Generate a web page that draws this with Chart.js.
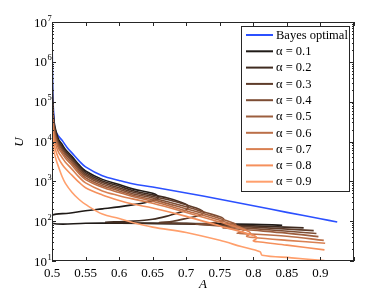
<!DOCTYPE html>
<html>
<head>
<meta charset="utf-8">
<script src="https://cdn.jsdelivr.net/npm/chart.js@4.4.0/dist/chart.umd.min.js"></script>
<style>
  html, body { margin: 0; padding: 0; background: #fff; }
  #wrap { width: 390px; height: 294px; }
</style>
</head>
<body>
<div id="wrap"><canvas id="chart" width="390" height="294"></canvas></div>
<script>
// series: [A, U]
const seriesLabels = ['Bayes optimal', 'α = 0.1', 'α = 0.2', 'α = 0.3', 'α = 0.4', 'α = 0.5', 'α = 0.6', 'α = 0.7', 'α = 0.8', 'α = 0.9'];
const seriesColors = ['#2b50ff', '#1f1a17', '#3f2b20', '#5e3c2a', '#7d4d34', '#9c5e3e', '#bb6f48', '#d98052', '#f5905c', '#ff9f6c'];

const bayesOptimal = [[0.5, 1e7], [0.5005, 1e6], [0.5015, 1e5], [0.503, 40000], [0.5045, 20000], [0.51, 13500], [0.515, 10700], [0.5225, 7100], [0.53, 5100], [0.54, 3300], [0.55, 2300], [0.575, 1380], [0.6, 1050], [0.62, 870], [0.65, 720], [0.7, 510], [0.75, 355], [0.8, 245], [0.85, 166], [0.9, 115], [0.925, 95]];

const alpha01 = [[0.5, 1e7], [0.5004, 398000], [0.501, 100000], [0.503, 31600], [0.506, 17800], [0.51, 11200], [0.515, 8510], [0.52, 6310], [0.53, 4170], [0.54, 2630], [0.55, 1820], [0.575, 1120], [0.6, 832], [0.62, 646], [0.65, 501], [0.657, 437], [0.658, 380], [0.654, 339], [0.64, 295], [0.62, 257], [0.6, 229], [0.575, 204], [0.55, 182], [0.525, 158], [0.5, 141], [0.5, 89], [0.55, 89], [0.6, 89], [0.7, 87], [0.8, 83], [0.843, 79]];

const alpha02 = [[0.5, 1e7], [0.5004, 251000], [0.501, 79400], [0.503, 28200], [0.506, 15800], [0.51, 10000], [0.515, 7590], [0.52, 5750], [0.53, 3800], [0.54, 2400], [0.55, 1660], [0.575, 1020], [0.6, 759], [0.62, 589], [0.65, 457], [0.675, 372], [0.69, 309], [0.7, 263], [0.703, 224], [0.7, 191], [0.69, 166], [0.67, 132], [0.65, 112], [0.62, 100], [0.6, 97], [0.58, 94], [0.585, 92], [0.6, 91], [0.7, 85], [0.8, 76], [0.875, 68]];

const alpha03 = [[0.5, 1e7], [0.5004, 158000], [0.501, 63100], [0.503, 25100], [0.506, 14100], [0.51, 9120], [0.515, 6920], [0.52, 5250], [0.53, 3470], [0.54, 2190], [0.55, 1510], [0.575, 933], [0.6, 692], [0.62, 537], [0.65, 417], [0.675, 339], [0.7, 257], [0.715, 214], [0.724, 182], [0.726, 162], [0.72, 141], [0.7, 117], [0.68, 100], [0.66, 92], [0.665, 90], [0.7, 88], [0.75, 79], [0.8, 71], [0.89, 58]];

const alpha04 = [[0.5, 1e7], [0.5004, 100000], [0.501, 50100], [0.503, 22400], [0.506, 12600], [0.51, 8320], [0.515, 6310], [0.52, 4790], [0.53, 3160], [0.54, 2000], [0.55, 1380], [0.575, 851], [0.6, 631], [0.62, 490], [0.65, 380], [0.7, 229], [0.73, 162], [0.75, 129], [0.756, 112], [0.75, 98], [0.735, 89], [0.715, 84], [0.72, 83], [0.8, 65], [0.894, 49]];

const alpha05 = [[0.5, 1e7], [0.5004, 79400], [0.501, 39800], [0.503, 20000], [0.506, 11200], [0.51, 7410], [0.515, 5620], [0.52, 4270], [0.53, 2820], [0.54, 1780], [0.55, 1230], [0.575, 776], [0.6, 575], [0.62, 447], [0.65, 347], [0.7, 204], [0.75, 117], [0.768, 93], [0.774, 83], [0.768, 72], [0.755, 68], [0.76, 67], [0.8, 59], [0.85, 50], [0.897, 41]];

const alpha06 = [[0.5, 1e7], [0.5004, 63100], [0.501, 31600], [0.503, 15800], [0.506, 10000], [0.51, 6610], [0.515, 5010], [0.52, 3800], [0.53, 2510], [0.54, 1580], [0.55, 1100], [0.575, 708], [0.6, 525], [0.62, 417], [0.65, 316], [0.7, 182], [0.75, 105], [0.78, 71], [0.787, 62], [0.782, 54], [0.776, 50], [0.78, 49.5], [0.85, 42], [0.905, 33]];

const alpha07 = [[0.5, 1e7], [0.5004, 39800], [0.501, 25100], [0.503, 12600], [0.506, 7940], [0.51, 5250], [0.515, 3980], [0.52, 3020], [0.53, 2000], [0.54, 1290], [0.55, 912], [0.575, 575], [0.6, 437], [0.62, 363], [0.65, 282], [0.7, 166], [0.75, 95], [0.79, 58], [0.796, 48], [0.79, 42], [0.8, 39], [0.85, 33], [0.907, 28]];

const alpha08 = [[0.5, 1e7], [0.5004, 25100], [0.501, 15800], [0.503, 8910], [0.506, 5620], [0.51, 3720], [0.515, 2690], [0.52, 2090], [0.53, 1410], [0.54, 955], [0.55, 692], [0.575, 457], [0.6, 331], [0.62, 269], [0.65, 214], [0.7, 132], [0.75, 76], [0.8, 44], [0.805, 37], [0.8, 32], [0.81, 30], [0.85, 25], [0.906, 19]];

const alpha09 = [[0.5, 1e7], [0.5004, 15800], [0.501, 10000], [0.503, 5620], [0.506, 3550], [0.51, 2240], [0.515, 1320], [0.52, 891], [0.53, 525], [0.54, 355], [0.55, 263], [0.575, 151], [0.6, 117], [0.62, 93], [0.65, 71], [0.7, 52], [0.75, 33], [0.782, 23], [0.81, 17], [0.813, 14], [0.857, 12], [0.906, 10.2]];

const allSeries = [bayesOptimal, alpha01, alpha02, alpha03, alpha04, alpha05, alpha06, alpha07, alpha08, alpha09];

const yDecades = [1, 2, 3, 4, 5, 6, 7];
const xTickValues = [0.5, 0.55, 0.6, 0.65, 0.7, 0.75, 0.8, 0.85, 0.9, 0.95];

const SERIF = '"Liberation Serif", "Times New Roman", serif';

// MATLAB style box, inward ticks, superscript y labels, axis titles and boxed legend
const matlabFrame = {
  id: 'matlabFrame',
  afterDatasetsDraw(chart) {
    const { ctx, chartArea: a, scales: { x, y } } = chart;
    ctx.save();
    ctx.strokeStyle = '#262626';
    ctx.lineWidth = 1;
    ctx.strokeRect(a.left + 0.5, a.top + 0.5, a.right - a.left - 1, a.bottom - a.top - 1);

    ctx.beginPath();
    xTickValues.forEach(v => {
      const px = Math.round(x.getPixelForValue(v)) + 0.5;
      ctx.moveTo(px, a.bottom); ctx.lineTo(px, a.bottom - 4);
      ctx.moveTo(px, a.top); ctx.lineTo(px, a.top + 4);
    });
    yDecades.forEach(e => {
      for (let m = 1; m <= 9; m++) {
        if (e === 7 && m > 1) break;
        const py = Math.round(y.getPixelForValue(m * Math.pow(10, e))) + 0.5;
        const len = m === 1 ? 4 : 2;
        ctx.moveTo(a.left, py); ctx.lineTo(a.left + len, py);
        ctx.moveTo(a.right, py); ctx.lineTo(a.right - len, py);
      }
    });
    ctx.stroke();

    // y tick labels 10^e
    ctx.fillStyle = '#000';
    yDecades.forEach(e => {
      const py = y.getPixelForValue(Math.pow(10, e));
      ctx.font = '13px ' + SERIF;
      ctx.textAlign = 'right';
      ctx.textBaseline = 'alphabetic';
      ctx.fillText('10', 47, py + 4.5);
      ctx.font = '8.5px ' + SERIF;
      ctx.textAlign = 'left';
      ctx.fillText(String(e), 47.5, py - 1.5);
    });

    // axis titles
    ctx.font = 'italic 13px ' + SERIF;
    ctx.textAlign = 'center';
    ctx.textBaseline = 'middle';
    ctx.fillText('A', (a.left + a.right) / 2, 285);
    ctx.save();
    ctx.translate(20, 142);
    ctx.rotate(-Math.PI / 2);
    ctx.fillText('U', 0, 0);
    ctx.restore();

    // legend
    const box = { left: 241, top: 26, right: 349, bottom: 191 };
    ctx.fillStyle = '#fff';
    ctx.fillRect(box.left, box.top, box.right - box.left, box.bottom - box.top);
    ctx.strokeStyle = '#262626';
    ctx.strokeRect(box.left + 0.5, box.top + 0.5, box.right - box.left, box.bottom - box.top);
    ctx.font = '12.5px ' + SERIF;
    ctx.textAlign = 'left';
    ctx.textBaseline = 'middle';
    chart.data.datasets.forEach((ds, i) => {
      const ly = 35 + i * 16.3;
      ctx.strokeStyle = ds.borderColor;
      ctx.lineWidth = 2;
      ctx.beginPath();
      ctx.moveTo(246, ly); ctx.lineTo(273, ly);
      ctx.stroke();
      ctx.fillStyle = '#000';
      ctx.fillText(ds.label, 276, ly + 0.5);
    });
    ctx.restore();
  }
};

new Chart(document.getElementById('chart'), {
  type: 'scatter',
  data: {
    datasets: allSeries.map((pts, i) => ({
      label: seriesLabels[i],
      data: pts.map(([A, U]) => ({ x: A, y: U })),
      showLine: true,
      borderColor: seriesColors[i],
      backgroundColor: seriesColors[i],
      borderWidth: 1.6,
      pointRadius: 0,
      tension: 0.35,
      order: i === 0 ? 10 : 10 - i
    }))
  },
  options: {
    responsive: false,
    animation: false,
    devicePixelRatio: 1,
    layout: { padding: { left: 0, top: 22, right: 36, bottom: 0 } },
    plugins: { legend: { display: false }, tooltip: { enabled: false } },
    scales: {
      x: {
        type: 'linear',
        min: 0.5,
        max: 0.95,
        grid: { display: false, drawTicks: false },
        border: { display: false },
        afterBuildTicks: s => { s.ticks = xTickValues.map(v => ({ value: v })); },
        afterFit: s => { s.height = 33; },
        ticks: {
          padding: 5,
          maxRotation: 0,
          autoSkip: false,
          color: '#000',
          font: { family: SERIF, size: 13 },
          callback: v => (v > 0.94 ? '' : String(+v.toFixed(2)))
        }
      },
      y: {
        type: 'logarithmic',
        min: 10,
        max: 1e7,
        grid: { display: false, drawTicks: false },
        border: { display: false },
        ticks: { display: false },
        afterFit: s => { s.width = 52; }
      }
    }
  },
  plugins: [matlabFrame]
});
</script>
</body>
</html>
